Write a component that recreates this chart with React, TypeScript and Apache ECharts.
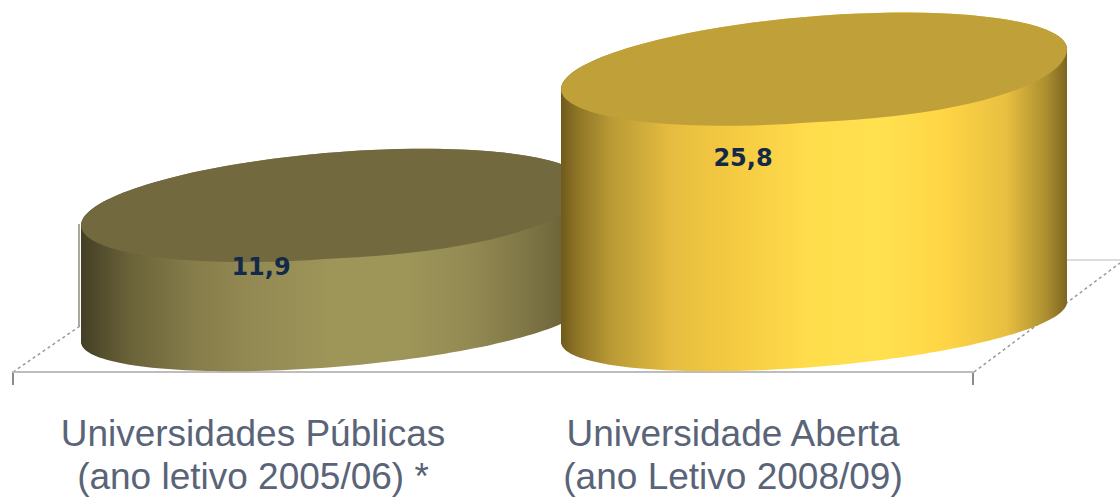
import React, { useEffect, useRef } from "react";
import * as echarts from "echarts";

const categories = ["Universidades Públicas\n(ano letivo 2005/06) *", "Universidade Aberta\n(ano Letivo 2008/09)"];
const values = [11.9, 25.8];
const valueLabels = ["11,9", "25,8"];

const DEPTH_X = 81, DEPTH_Y = -50;
const RX = 253, TILT = 20, TOP_RY = 53, BASE_RY = 45, TOP_BULGE = 10;
const LABEL_OFFSETS = [[8, 12], [10, 39]];

const stops = (c: string[]) => {
  const pos = [0, 0.03, 0.1, 0.22, 0.35, 0.5, 0.64, 0.76, 0.88, 0.96, 1];
  return pos.map((offset, i) => ({ offset, color: c[i] }));
};
const bodyFills = [
  stops(["#443e24", "#4f4a2b", "#6b6339", "#857c4a", "#948b54", "#9e9559", "#9e9559", "#948b54", "#7f7646", "#6b6339", "#544d2d"]),
  stops(["#6f5a1c", "#8d7326", "#b99a35", "#e6bd40", "#f6cb42", "#ffde4c", "#ffe04f", "#ffd545", "#e8bf40", "#ab8e30", "#7c6520"]),
];
const topFills = ["#72693f", "#c0a038"];

const ellipse = (cx: number, cy: number, ry: number, from: number, to: number, bulge = 0, n = 90) => {
  const pts: number[][] = [];
  for (let i = 0; i <= n; i++) {
    const t = from + ((to - from) * i) / n;
    const c = Math.cos(t), s = Math.sin(t);
    const extra = s > 0 && c > 0 ? bulge * s * c : 0;
    pts.push([cx + RX * c, cy - TILT * c + ry * s + extra]);
  }
  return pts;
};

const renderItem = (_: any, api: any) => {
  const i = api.value(0);
  const top = api.coord([i, api.value(1)]);
  const base = api.coord([i, 0]);
  const cx = base[0] + DEPTH_X;
  const topY = top[1] + DEPTH_Y;
  const baseY = base[1] + DEPTH_Y;
  const body = [...ellipse(cx, baseY, BASE_RY, 0, Math.PI), ...ellipse(cx, topY, TOP_RY, Math.PI, 2 * Math.PI)];
  return {
    type: "group",
    children: [
      {
        type: "polygon",
        shape: { points: body },
        style: { fill: new echarts.graphic.LinearGradient(0, 0, 1, 0, bodyFills[i]) },
      },
      {
        type: "polygon",
        shape: { points: ellipse(cx, topY, TOP_RY, 0, 2 * Math.PI, TOP_BULGE) },
        style: { fill: topFills[i] },
      },
      {
        type: "text",
        x: base[0] + LABEL_OFFSETS[i][0],
        y: top[1] + LABEL_OFFSETS[i][1],
        style: {
          text: valueLabels[i],
          fill: "#12294a",
          font: "bold 24px 'DejaVu Sans'",
          align: "center",
          verticalAlign: "middle",
        },
      },
    ],
  };
};

export default function App() {
  const ref = useRef<HTMLDivElement>(null);
  useEffect(() => {
    const chart = echarts.init(ref.current!, undefined, { renderer: "svg" });
    chart.setOption({
      animation: false,
      backgroundColor: "#ffffff",
      grid: { left: 13, width: 960, top: 78, height: 294, outerBoundsMode: "none", containLabel: false },
      xAxis: {
        type: "category",
        data: categories,
        axisLine: { lineStyle: { color: "#bdbdbd", width: 2 } },
        axisTick: { show: false },
        axisLabel: {
          color: "#5a6478",
          fontFamily: "'Liberation Sans'",
          fontSize: 37,
          lineHeight: 43,
          margin: 40,
          interval: 0,
        },
      },
      yAxis: { type: "value", min: 0, max: 30, show: false },
      graphic: [
        { type: "line", z: 0, shape: { x1: 13, y1: 372, x2: 80, y2: 326 }, style: { stroke: "#999999", lineWidth: 1.5, lineDash: [3, 3] } },
        { type: "line", z: 0, shape: { x1: 974, y1: 372, x2: 1120, y2: 263 }, style: { stroke: "#999999", lineWidth: 1.5, lineDash: [3, 3] } },
        { type: "line", z: 0, shape: { x1: 1066, y1: 260, x2: 1120, y2: 260 }, style: { stroke: "#dddddd", lineWidth: 2 } },
        { type: "line", z: 0, shape: { x1: 79, y1: 224, x2: 79, y2: 326 }, style: { stroke: "#8d8d80", lineWidth: 1.5 } },
        { type: "line", z: 0, shape: { x1: 13, y1: 372, x2: 13, y2: 385 }, style: { stroke: "#8c8c8c", lineWidth: 2 } },
        { type: "line", z: 0, shape: { x1: 973, y1: 372, x2: 973, y2: 385 }, style: { stroke: "#8c8c8c", lineWidth: 2 } },
      ],
      series: [
        {
          type: "custom",
          z: 5,
          clip: false,
          renderItem,
          encode: { x: 0, y: 1 },
          data: values.map((v, i) => [i, v]),
        },
      ],
    });
    return () => chart.dispose();
  }, []);
  return <div ref={ref} style={{ position: "fixed", left: 0, top: 0, width: 1120, height: 498 }} />;
}
